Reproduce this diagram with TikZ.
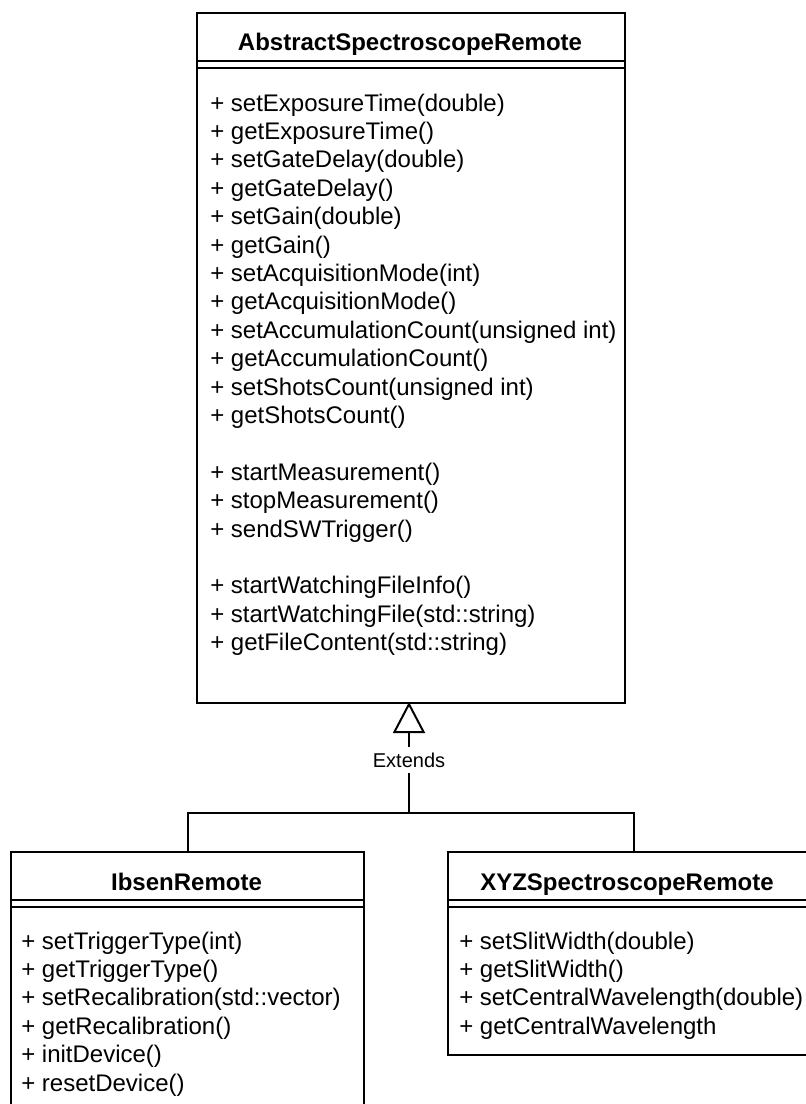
\documentclass[tikz,border=0pt]{standalone}
\usepackage{fontspec}
\setmainfont{Liberation Sans}
\usetikzlibrary{arrows.meta}
\begin{document}
\begin{tikzpicture}[x=0.75pt,y=-0.75pt,
  classbox/.style={draw=black, line width=1.5pt, inner sep=0pt, anchor=north west},
  sepline/.style={draw=black, line width=1.5pt},
  classname/.style={anchor=base, inner sep=0pt, font=\fontsize{18}{21}\selectfont\bfseries},
  member/.style={anchor=base west, inner sep=0pt, font=\fontsize{18}{21}\selectfont},
  link/.style={draw=black, line width=1.5pt},
  linklabel/.style={fill=white, inner sep=4pt, font=\fontsize{15}{18}\selectfont}]
\useasboundingbox (0,0) rectangle (806,1104);
\clip (0,0) rectangle (806,1104);

% ---- base class ----
\node[classbox, minimum width=321pt, minimum height=517.5pt] (abstract) at (196,12) {};
\node[classname] (abstractname) at (410,50.6) {AbstractSpectroscopeRemote};
\draw[sepline] (196,61) -- (624,61);
\draw[sepline] (196,67.7) -- (624,67.7);
\foreach \t [count=\i from 0] in {
  + setExposureTime(double), + getExposureTime(), + setGateDelay(double),
  + getGateDelay(), + setGain(double), + getGain(), + setAcquisitionMode(int),
  + getAcquisitionMode(), + setAccumulationCount(unsigned int),
  + getAccumulationCount(), + setShotsCount(unsigned int), + getShotsCount()}
  \node[member] at (210,111+28.4*\i) {\t};
\foreach \t [count=\i from 13] in {
  + startMeasurement(), + stopMeasurement(), + sendSWTrigger()}
  \node[member] at (210,111+28.4*\i) {\t};
\foreach \t [count=\i from 17] in {
  + startWatchingFileInfo(), + startWatchingFile(std::string), + getFileContent(std::string)}
  \node[member] at (210,111+28.4*\i) {\t};

% ---- IbsenRemote ----
\node[classbox, minimum width=264.75pt, minimum height=225pt] (ibsen) at (10,851) {};
\node[classname] (ibsenname) at (186.5,890.6) {IbsenRemote};
\draw[sepline] (10,900) -- (363,900);
\draw[sepline] (10,906.5) -- (363,906.5);
\foreach \t [count=\i from 0] in {
  + setTriggerType(int), + getTriggerType(), + setRecalibration(std::vector),
  + getRecalibration(), + initDevice(), + resetDevice()}
  \node[member] at (21,949+28.4*\i) {\t};

% ---- XYZSpectroscopeRemote ----
\node[classbox, minimum width=270pt, minimum height=152.25pt] (xyz) at (447,851) {};
\node[classname] (xyzname) at (627,890.6) {XYZSpectroscopeRemote};
\draw[sepline] (447,900) -- (807,900);
\draw[sepline] (447,906.5) -- (807,906.5);
\foreach \t [count=\i from 0] in {
  + setSlitWidth(double), + getSlitWidth(), + setCentralWavelength(double),
  + getCentralWavelength}
  \node[member] at (459,949+28.4*\i) {\t};

% ---- generalisation ----
\coordinate (join) at (409,813);
\coordinate (xyzin) at (634,851);
\coordinate (apex) at (409,702);
\node[linklabel] (ext) at (409,760) {Extends};
\draw[link] (ibsen.north) |- (join) -| (xyzin);
\draw[link] (join) -- (ext.south);
\draw[link, -{Triangle[open, width=24pt, length=23.25pt, fill=white]}] (ext.north) -- (apex);
\end{tikzpicture}
\end{document}
